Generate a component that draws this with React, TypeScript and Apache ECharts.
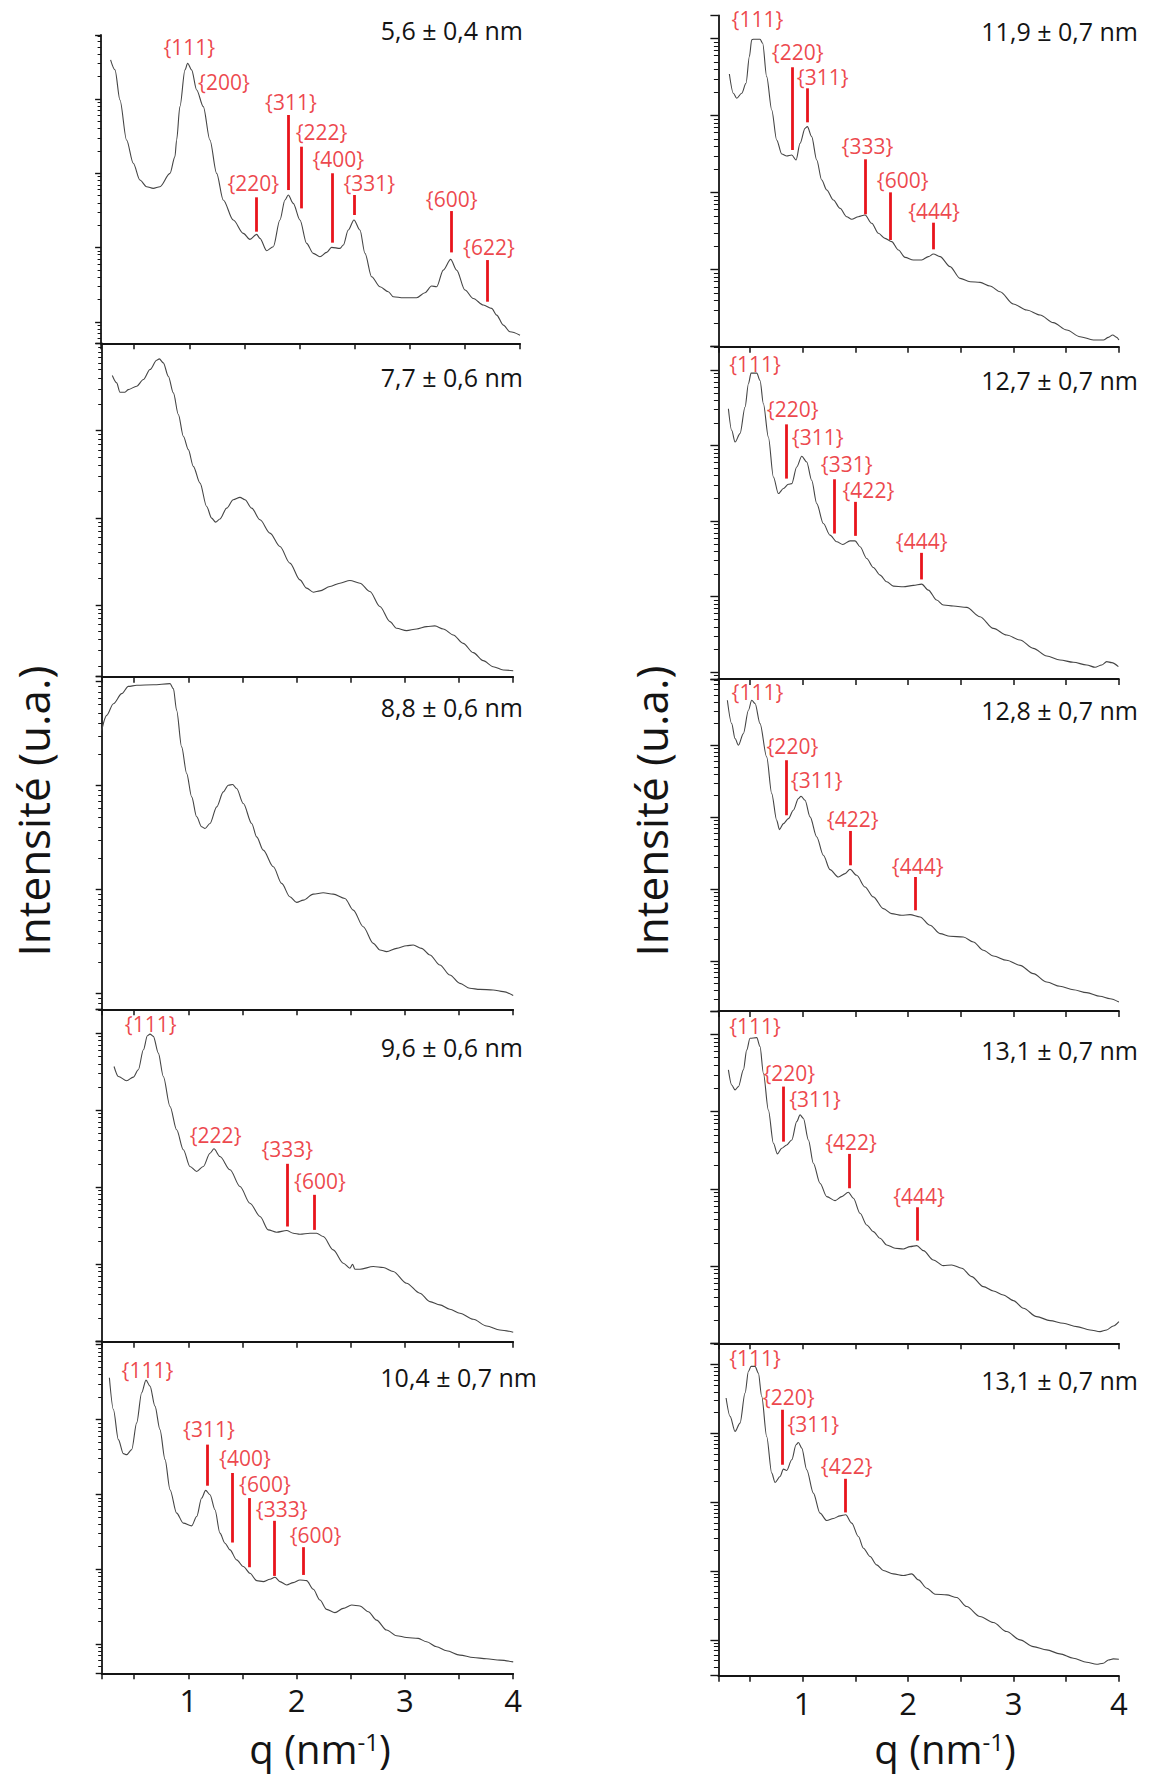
import React, { useEffect, useRef } from 'react';
import * as echarts from 'echarts';

// ---------- data (q in nm^-1, lg = log10 of intensity, a.u.) ----------
const X_TICK_LABELS = [1, 2, 3, 4];
const SIZES = [
  '5,6 ± 0,4 nm', '7,7 ± 0,6 nm', '8,8 ± 0,6 nm', '9,6 ± 0,6 nm', '10,4 ± 0,7 nm',
  '11,9 ± 0,7 nm', '12,7 ± 0,7 nm', '12,8 ± 0,7 nm', '13,1 ± 0,7 nm', '13,1 ± 0,7 nm',
];
const Y_NAME = 'Intensité (u.a.)';

const CURVE_56 = [[0.286,3.527],[0.326,3.392],[0.371,2.987],[0.431,2.448],[0.492,2.134],[0.552,1.909],[0.613,1.819],[0.673,1.797],[0.734,1.819],[0.825,1.999],[0.870,2.224],[0.885,2.448],[0.915,2.898],[0.961,3.392],[0.985,3.482],[1.021,3.392],[1.067,3.122],[1.127,2.898],[1.187,2.448],[1.248,1.999],[1.308,1.640],[1.399,1.370],[1.490,1.190],[1.550,1.110],[1.611,1.177],[1.641,1.123],[1.702,0.957],[1.762,1.011],[1.822,1.370],[1.868,1.640],[1.898,1.707],[1.943,1.595],[2.004,1.370],[2.064,1.056],[2.125,0.921],[2.185,0.876],[2.246,0.934],[2.291,1.002],[2.367,0.988],[2.397,1.033],[2.442,1.235],[2.494,1.370],[2.548,1.235],[2.594,0.921],[2.654,0.606],[2.730,0.472],[2.805,0.404],[2.851,0.337],[2.941,0.323],[3.062,0.323],[3.138,0.391],[3.198,0.481],[3.244,0.472],[3.304,0.696],[3.371,0.840],[3.425,0.696],[3.501,0.427],[3.576,0.314],[3.667,0.225],[3.743,0.180],[3.788,0.090],[3.849,-0.045],[3.909,-0.135],[4.0,-0.18]];
const CURVE_77 = [[0.298,2.632],[0.338,2.548],[0.369,2.441],[0.415,2.441],[0.446,2.471],[0.523,2.510],[0.585,2.586],[0.646,2.701],[0.708,2.808],[0.732,2.824],[0.769,2.778],[0.815,2.625],[0.862,2.433],[0.908,2.184],[0.954,1.935],[1.0,1.782],[1.046,1.590],[1.108,1.398],[1.169,1.130],[1.215,0.996],[1.252,0.950],[1.292,0.985],[1.354,1.111],[1.415,1.207],[1.477,1.234],[1.523,1.207],[1.585,1.111],[1.662,0.977],[1.754,0.824],[1.846,0.670],[1.938,0.479],[2.031,0.287],[2.092,0.192],[2.154,0.146],[2.215,0.161],[2.308,0.211],[2.400,0.249],[2.492,0.280],[2.585,0.249],[2.677,0.153],[2.769,-0.019],[2.862,-0.192],[2.923,-0.268],[3.015,-0.295],[3.108,-0.276],[3.200,-0.249],[3.277,-0.241],[3.354,-0.276],[3.446,-0.345],[3.538,-0.441],[3.631,-0.548],[3.723,-0.640],[3.815,-0.709],[3.908,-0.747],[4.0,-0.755]];
const CURVE_88 = [[0.2,2.532],[0.246,2.676],[0.308,2.788],[0.385,2.885],[0.446,2.955],[0.523,2.965],[0.677,2.971],[0.831,2.981],[0.862,2.933],[0.892,2.724],[0.938,2.372],[0.985,2.115],[1.031,1.891],[1.077,1.699],[1.123,1.603],[1.154,1.587],[1.200,1.635],[1.262,1.795],[1.323,1.939],[1.369,2.003],[1.409,2.010],[1.446,1.971],[1.508,1.827],[1.585,1.635],[1.631,1.506],[1.692,1.378],[1.785,1.218],[1.862,1.058],[1.938,0.929],[2.0,0.875],[2.062,0.897],[2.154,0.955],[2.246,0.968],[2.338,0.955],[2.446,0.913],[2.523,0.801],[2.615,0.641],[2.708,0.481],[2.769,0.417],[2.831,0.401],[2.923,0.433],[3.015,0.458],[3.077,0.465],[3.154,0.433],[3.231,0.369],[3.323,0.272],[3.415,0.176],[3.508,0.096],[3.600,0.048],[3.692,0.038],[3.815,0.032],[3.908,0.016],[4.0,-0.022]];
const CURVE_96 = [[0.314,3.567],[0.354,3.437],[0.431,3.381],[0.492,3.429],[0.538,3.524],[0.585,3.784],[0.622,3.966],[0.646,3.988],[0.677,3.958],[0.723,3.741],[0.769,3.437],[0.831,3.047],[0.892,2.744],[0.954,2.484],[1.015,2.267],[1.077,2.202],[1.138,2.267],[1.200,2.440],[1.237,2.497],[1.292,2.397],[1.385,2.224],[1.477,2.007],[1.569,1.790],[1.662,1.617],[1.738,1.443],[1.815,1.413],[1.908,1.435],[1.969,1.400],[2.031,1.387],[2.123,1.400],[2.185,1.400],[2.246,1.357],[2.338,1.183],[2.431,1.010],[2.492,0.945],[2.517,0.997],[2.538,0.932],[2.585,0.932],[2.708,0.967],[2.800,0.954],[2.892,0.902],[3.015,0.750],[3.138,0.620],[3.231,0.511],[3.323,0.468],[3.415,0.412],[3.508,0.360],[3.631,0.282],[3.754,0.195],[3.877,0.143],[4.0,0.113]];
const CURVE_104 = [[0.271,3.558],[0.308,3.134],[0.354,2.732],[0.400,2.545],[0.431,2.531],[0.477,2.598],[0.523,2.955],[0.569,3.357],[0.609,3.527],[0.646,3.446],[0.692,3.179],[0.738,2.866],[0.785,2.464],[0.831,2.063],[0.892,1.750],[0.954,1.616],[1.031,1.580],[1.077,1.705],[1.123,1.951],[1.160,2.054],[1.200,1.996],[1.246,1.795],[1.292,1.482],[1.338,1.348],[1.385,1.259],[1.446,1.125],[1.508,1.036],[1.569,0.946],[1.631,0.848],[1.692,0.835],[1.754,0.866],[1.800,0.893],[1.846,0.835],[1.908,0.790],[1.969,0.821],[2.031,0.857],[2.092,0.848],[2.154,0.732],[2.215,0.589],[2.277,0.464],[2.354,0.420],[2.431,0.478],[2.508,0.522],[2.585,0.509],[2.662,0.433],[2.738,0.321],[2.831,0.188],[2.923,0.112],[3.015,0.089],[3.123,0.076],[3.200,0.031],[3.292,-0.036],[3.385,-0.089],[3.508,-0.147],[3.631,-0.179],[3.754,-0.196],[3.877,-0.214],[4.0,-0.237]];
const CURVE_119 = [[0.304,3.541],[0.342,3.290],[0.374,3.225],[0.421,3.290],[0.462,3.420],[0.494,3.766],[0.516,3.983],[0.532,3.991],[0.595,3.991],[0.620,3.939],[0.658,3.506],[0.706,3.074],[0.753,2.684],[0.801,2.502],[0.848,2.476],[0.896,2.489],[0.937,2.424],[0.975,2.641],[1.022,2.835],[1.044,2.857],[1.085,2.727],[1.133,2.424],[1.180,2.165],[1.228,2.035],[1.291,1.905],[1.354,1.797],[1.417,1.688],[1.465,1.654],[1.528,1.688],[1.591,1.710],[1.655,1.602],[1.718,1.472],[1.781,1.407],[1.844,1.364],[1.908,1.255],[1.971,1.160],[2.050,1.126],[2.129,1.126],[2.192,1.169],[2.240,1.203],[2.303,1.169],[2.398,1.039],[2.493,0.887],[2.588,0.844],[2.683,0.835],[2.777,0.788],[2.872,0.714],[2.999,0.554],[3.125,0.476],[3.252,0.411],[3.378,0.312],[3.505,0.216],[3.631,0.130],[3.758,0.087],[3.853,0.087],[3.900,0.121],[3.941,0.152],[3.979,0.121],[4.0,0.087]];
const CURVE_127 = [[0.295,3.489],[0.326,3.203],[0.358,3.048],[0.405,3.159],[0.453,3.511],[0.485,3.819],[0.510,3.960],[0.564,3.960],[0.595,3.863],[0.627,3.555],[0.674,3.115],[0.722,2.586],[0.769,2.366],[0.817,2.432],[0.864,2.489],[0.896,2.498],[0.943,2.718],[0.991,2.859],[1.038,2.784],[1.085,2.542],[1.133,2.233],[1.196,1.969],[1.259,1.815],[1.323,1.727],[1.380,1.692],[1.449,1.740],[1.497,1.740],[1.544,1.661],[1.607,1.507],[1.670,1.388],[1.734,1.286],[1.797,1.198],[1.860,1.141],[1.955,1.132],[2.050,1.150],[2.129,1.167],[2.192,1.088],[2.271,0.956],[2.335,0.890],[2.429,0.877],[2.556,0.859],[2.682,0.736],[2.809,0.581],[2.935,0.493],[3.062,0.427],[3.188,0.317],[3.315,0.216],[3.441,0.163],[3.568,0.132],[3.694,0.097],[3.774,0.066],[3.837,0.097],[3.884,0.141],[3.932,0.128],[3.995,0.075]];
const CURVE_128 = [[0.285,3.625],[0.326,3.301],[0.358,3.093],[0.390,3.000],[0.437,3.162],[0.485,3.486],[0.516,3.625],[0.548,3.579],[0.595,3.301],[0.658,2.838],[0.706,2.329],[0.753,1.958],[0.779,1.829],[0.817,1.912],[0.864,1.981],[0.911,2.097],[0.959,2.259],[0.984,2.292],[1.022,2.236],[1.070,2.005],[1.133,1.727],[1.196,1.472],[1.259,1.273],[1.338,1.171],[1.402,1.218],[1.449,1.278],[1.512,1.194],[1.591,1.032],[1.670,0.894],[1.765,0.731],[1.844,0.662],[1.939,0.639],[2.018,0.648],[2.113,0.616],[2.208,0.500],[2.303,0.384],[2.398,0.347],[2.524,0.338],[2.619,0.269],[2.714,0.153],[2.809,0.074],[2.935,0.014],[3.062,-0.056],[3.188,-0.171],[3.315,-0.287],[3.441,-0.347],[3.568,-0.394],[3.694,-0.435],[3.821,-0.486],[3.916,-0.519],[4.0,-0.565]];
const CURVE_131A = [[0.295,3.541],[0.326,3.346],[0.358,3.282],[0.390,3.325],[0.437,3.541],[0.469,3.800],[0.500,3.951],[0.564,3.959],[0.595,3.843],[0.627,3.497],[0.674,3.022],[0.722,2.591],[0.760,2.453],[0.801,2.526],[0.848,2.569],[0.896,2.634],[0.943,2.871],[0.975,2.958],[1.006,2.915],[1.054,2.634],[1.101,2.332],[1.164,2.073],[1.228,1.900],[1.307,1.848],[1.370,1.900],[1.433,1.956],[1.481,1.878],[1.544,1.684],[1.607,1.533],[1.670,1.446],[1.734,1.360],[1.797,1.274],[1.876,1.231],[1.955,1.222],[2.018,1.252],[2.082,1.265],[2.145,1.200],[2.240,1.079],[2.335,1.006],[2.414,1.015],[2.509,0.972],[2.603,0.864],[2.714,0.734],[2.809,0.678],[2.904,0.626],[2.999,0.553],[3.094,0.453],[3.220,0.345],[3.347,0.294],[3.473,0.259],[3.600,0.216],[3.726,0.173],[3.821,0.151],[3.884,0.173],[3.947,0.225],[4.0,0.281]];
const CURVE_131B = [[0.273,3.513],[0.311,3.246],[0.358,3.028],[0.405,3.149],[0.453,3.585],[0.485,3.900],[0.510,3.973],[0.548,3.973],[0.579,3.876],[0.611,3.537],[0.658,2.955],[0.706,2.422],[0.738,2.287],[0.785,2.374],[0.817,2.481],[0.848,2.461],[0.896,2.616],[0.937,2.834],[0.959,2.868],[0.991,2.786],[1.038,2.471],[1.101,2.132],[1.164,1.841],[1.228,1.734],[1.291,1.764],[1.354,1.802],[1.408,1.817],[1.465,1.696],[1.528,1.502],[1.576,1.332],[1.639,1.211],[1.702,1.090],[1.765,1.008],[1.860,0.959],[1.955,0.935],[2.034,0.959],[2.098,0.872],[2.177,0.751],[2.256,0.664],[2.367,0.654],[2.461,0.615],[2.556,0.484],[2.682,0.339],[2.809,0.252],[2.935,0.121],[3.062,0.000],[3.188,-0.097],[3.315,-0.145],[3.441,-0.203],[3.568,-0.266],[3.694,-0.325],[3.789,-0.354],[3.852,-0.339],[3.900,-0.291],[3.947,-0.276],[4.0,-0.281]];

// peak labels: [hkl, q, lg]   marker lines: [q, lgLow, lgHigh]
const LABELS_56 = [['{111}',1.0,3.697],['{200}',1.314,3.234],['{311}',1.922,2.965],['{222}',2.200,2.561],['{400}',2.352,2.192],['{220}',1.581,1.873],['{331}',2.633,1.864],['{600}',3.380,1.658],['{622}',3.718,1.011]];
const LINES_56 = [[1.898,1.774,2.785],[2.019,1.527,2.358],[2.300,1.065,2.0],[1.611,1.213,1.676],[2.497,1.438,1.707],[3.374,0.934,1.491],[3.706,0.270,0.831]];
const LABELS_96 = [['{111}',0.652,4.122],['{222}',1.252,2.679],['{333}',1.914,2.492],['{600}',2.215,2.081]];
const LINES_96 = [[1.914,1.487,2.302],[2.163,1.443,1.899]];
const LABELS_104 = [['{111}',0.622,3.661],['{311}',1.191,2.879],['{400}',1.523,2.487],['{600}',1.708,2.143],['{333}',1.862,1.804],['{600}',2.175,1.460]];
const LINES_104 = [[1.172,2.116,2.665],[1.406,1.357,2.286],[1.560,1.027,1.951],[1.797,0.911,1.647],[2.065,0.924,1.295]];
const LABELS_119 = [['{111}',0.570,4.255],['{220}',0.953,3.823],['{311}',1.190,3.506],['{333}',1.614,2.610],['{600}',1.949,2.165],['{444}',2.246,1.762]];
const LINES_119 = [[0.896,2.554,3.628],[1.044,2.913,3.355],[1.591,1.719,2.433],[1.835,1.385,2.004],[2.240,1.264,1.610]];
const LABELS_127 = [['{111}',0.548,4.075],['{220}',0.905,3.489],['{311}',1.142,3.115],['{331}',1.417,2.762],['{422}',1.623,2.410],['{444}',2.129,1.736]];
const LINES_127 = [[0.848,2.564,3.282],[1.297,1.837,2.555],[1.503,1.806,2.256],[2.123,1.229,1.581]];
const LABELS_128 = [['{111}',0.570,3.741],['{220}',0.902,2.986],['{311}',1.133,2.523],['{422}',1.474,1.981],['{444}',2.091,1.324]];
const LINES_128 = [[0.842,2.028,2.792],[1.455,1.333,1.810],[2.072,0.708,1.171]];
const LABELS_131A = [['{111}',0.548,4.111],['{220}',0.873,3.506],['{311}',1.117,3.165],['{422}',1.459,2.612],['{444}',2.104,1.913]];
const LINES_131A = [[0.817,2.612,3.325],[1.440,2.008,2.453],[2.088,1.330,1.762]];
const LABELS_131B = [['{111}',0.548,4.094],['{220}',0.867,3.522],['{311}',1.101,3.135],['{422}',1.417,2.519]];
const LINES_131B = [[0.810,2.544,3.343],[1.402,1.851,2.340]];

const CURVES = [CURVE_56, CURVE_77, CURVE_88, CURVE_96, CURVE_104, CURVE_119, CURVE_127, CURVE_128, CURVE_131A, CURVE_131B];
const LABELS = [LABELS_56, [], [], LABELS_96, LABELS_104, LABELS_119, LABELS_127, LABELS_128, LABELS_131A, LABELS_131B];
const LINES = [LINES_56, [], [], LINES_96, LINES_104, LINES_119, LINES_127, LINES_128, LINES_131A, LINES_131B];

// ---------- layout (pixel boxes, log ranges of each panel's y axis) ----------
const LAYOUT = [
  { box: [101.1, 35, 418.9, 308.3], lg: [-0.29, 3.862], title: [523, 30], last: false, tk: [6, 3.5] },
  { box: [101.7, 343.5, 411.5, 333.2], lg: [-0.824, 3.0], title: [523, 377], last: false, tk: [6, 3.5] },
  { box: [101.7, 676.7, 411.5, 332.6], lg: [-0.154, 3.048], title: [523, 707], last: false, tk: [6, 3.5] },
  { box: [101.7, 1009.3, 411.5, 332.4], lg: [-0.01, 4.31], title: [523, 1047], last: false, tk: [6, 3.5] },
  { box: [101.7, 1341.7, 411.5, 331.6], lg: [-0.39, 4.04], title: [537, 1377], last: true, tk: [6, 3.5] },
  { box: [718.4, 15.5, 400.5, 331.2], lg: [0, 4.30], title: [1138, 31], last: false, tk: [8, 4.5] },
  { box: [718.4, 346.7, 400.5, 332.3], lg: [-0.089, 4.31], title: [1138, 380], last: false, tk: [8, 4.5] },
  { box: [718.4, 679, 400.5, 332], lg: [-0.69, 3.92], title: [1138, 710], last: false, tk: [8, 4.5] },
  { box: [718.4, 1011.3, 400.5, 332], lg: [0, 4.30], title: [1138, 1050], last: false, tk: [8, 4.5] },
  { box: [718.4, 1343.5, 400.5, 332.2], lg: [-0.52, 4.305], title: [1138, 1380], last: true, tk: [8, 4.5] },
];

const RED = '#e8151c';
const INK = '#141414';
const CURVE_COLOR = '#454545';
const FONT = '"Open Sans", "DejaVu Sans", sans-serif';

function buildOption() {
  const grid = LAYOUT.map((l) => ({ left: l.box[0], top: l.box[1], width: l.box[2], height: l.box[3] }));
  const xAxis = LAYOUT.map((l, i) => ({
    type: 'value', gridIndex: i, min: 0.2, max: 4, splitNumber: 8, minInterval: 0.5, maxInterval: 0.5,
    axisLine: { onZero: false, lineStyle: { color: INK, width: 1.8 } },
    axisTick: { show: true, length: 6, lineStyle: { color: INK, width: 1.5 } },
    axisLabel: {
      show: l.last, margin: 12, fontSize: 31, lineHeight: 30, color: INK, fontFamily: FONT,
      formatter: (v: number) => (X_TICK_LABELS.some((t) => Math.abs(t - v) < 1e-6) ? String(Math.round(v)) : ''),
    },
    splitLine: { show: false },
  }));
  const yAxis = LAYOUT.map((l, i) => ({
    type: 'log', logBase: 10, gridIndex: i, min: Math.pow(10, l.lg[0]), max: Math.pow(10, l.lg[1]),
    axisLine: { onZero: false, lineStyle: { color: INK, width: 1.8 } },
    axisTick: { show: true, length: l.tk[0], lineStyle: { color: INK, width: 1.4 } },
    minorTick: { show: true, splitNumber: 9, length: l.tk[1], lineStyle: { color: INK, width: 1 } },
    axisLabel: { show: false },
    splitLine: { show: false },
    minorSplitLine: { show: false },
  }));
  const series: any[] = [];
  CURVES.forEach((curve, i) => {
    const lines = LINES[i] as number[][];
    series.push({
      type: 'line', xAxisIndex: i, yAxisIndex: i, silent: true,
      data: curve.map(([q, lg]) => [q, Math.pow(10, lg)]),
      showSymbol: false, symbol: 'none', smooth: 0.3, smoothMonotone: 'x',
      lineStyle: { color: CURVE_COLOR, width: 1.1 },
      markLine: lines.length
        ? {
            silent: true, symbol: ['none', 'none'], label: { show: false },
            lineStyle: { color: RED, width: 2.8, type: 'solid' },
            data: lines.map(([q, lo, hi]) => [{ coord: [q, Math.pow(10, lo)] }, { coord: [q, Math.pow(10, hi)] }]),
          }
        : undefined,
    });
    const labels = LABELS[i] as any[];
    if (labels.length) {
      series.push({
        type: 'scatter', xAxisIndex: i, yAxisIndex: i, silent: true, symbolSize: 1,
        itemStyle: { color: 'rgba(0,0,0,0)' },
        label: { show: true, position: 'inside', formatter: '{b}', color: RED, fontSize: 21, lineHeight: 21, fontFamily: FONT },
        data: labels.map(([t, q, lg]) => ({ name: t, value: [q, Math.pow(10, lg)] })),
      });
    }
  });
  const graphic: any[] = LAYOUT.map((l, i) => ({
    type: 'text', x: l.title[0], y: l.title[1], silent: true,
    style: { text: SIZES[i], font: `25px ${FONT}`, fill: INK, align: 'right', verticalAlign: 'middle', textAlign: 'right', textVerticalAlign: 'middle' },
  }));
  [33, 651].forEach((x) => {
    graphic.push({
      type: 'text', x, y: 811, rotation: Math.PI / 2, silent: true,
      style: { text: Y_NAME, font: `44px ${FONT}`, fill: INK, align: 'center', verticalAlign: 'middle', textAlign: 'center', textVerticalAlign: 'middle' },
    });
  });
  [320, 945].forEach((x) => {
    graphic.push({
      type: 'text', x, y: 1748, silent: true,
      style: {
        text: '{a|q (nm}{s|-1}{a|)}',
        rich: {
          a: { fontSize: 40, fontFamily: FONT, fill: INK, lineHeight: 38 },
          s: { fontSize: 24, fontFamily: FONT, fill: INK, verticalAlign: 'top', lineHeight: 38 },
        },
        align: 'center', verticalAlign: 'middle', textAlign: 'center', textVerticalAlign: 'middle',
      },
    });
  });
  return { animation: false, backgroundColor: '#ffffff', grid, xAxis, yAxis, series, graphic };
}

export default function App() {
  const ref = useRef<HTMLDivElement>(null);
  useEffect(() => {
    if (!ref.current) return;
    const chart = echarts.init(ref.current, undefined, { renderer: 'svg' });
    chart.setOption(buildOption() as any);
    return () => chart.dispose();
  }, []);
  return <div ref={ref} style={{ position: 'absolute', left: 0, top: 0, width: 1159, height: 1776, background: '#fff' }} />;
}
